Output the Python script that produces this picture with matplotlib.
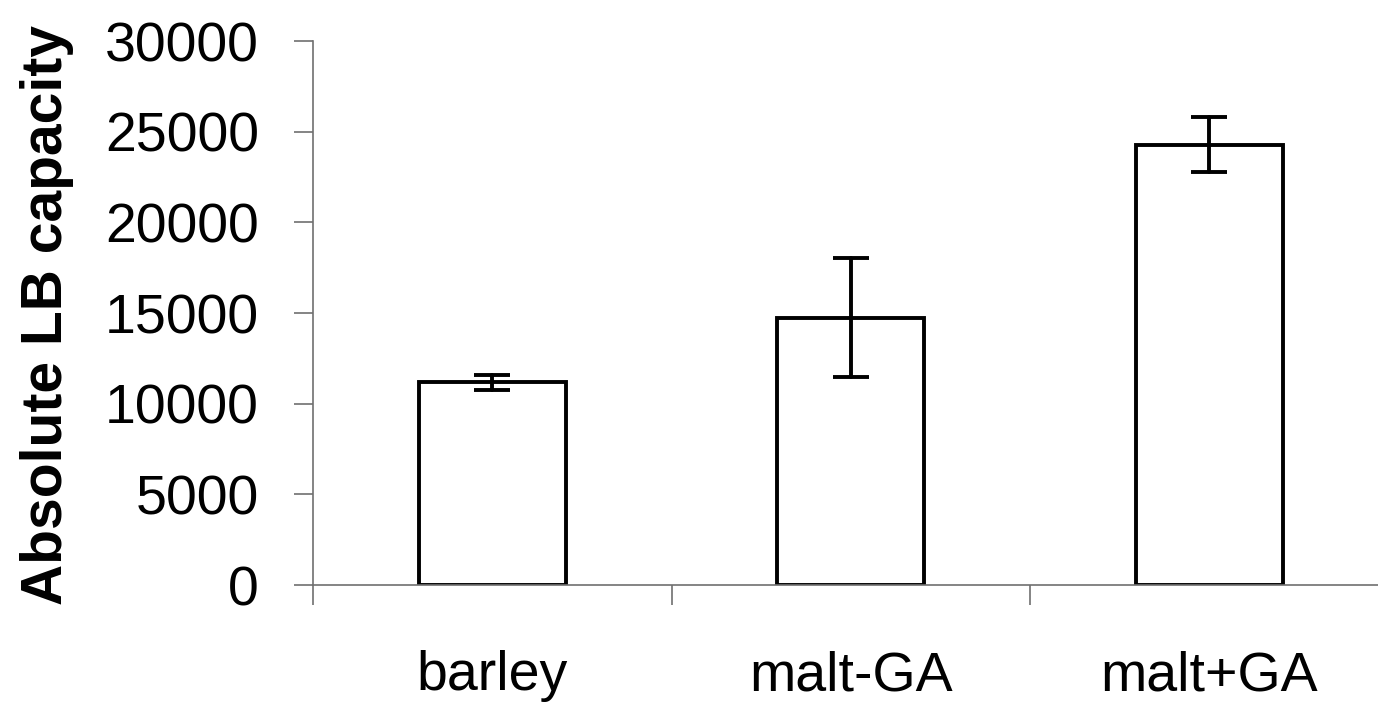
import matplotlib.pyplot as plt

categories = ['barley', 'malt-GA', 'malt+GA']
values = [11170, 14730, 24270]
errors = [410, 3280, 1520]
y_ticks = [0, 5000, 10000, 15000, 20000, 25000, 30000]

plt.rcParams['font.family'] = ['Liberation Sans', 'DejaVu Sans']

fig = plt.figure(figsize=(13.78, 7.08), dpi=100)
ax = fig.add_axes([313/1378, 123/708, 1 - 313/1378, (585-41)/708])

x = list(range(len(categories)))
ax.bar(x, values, width=0.41, color='white', edgecolor='black', linewidth=2.8, zorder=2)
eb = ax.errorbar(x, values, yerr=errors, fmt='none', ecolor='black', elinewidth=2.8,
                 capsize=13, capthick=2.8, zorder=3)
for c in eb[1]:
    c.set_solid_capstyle('round')
for c in eb[2]:
    c.set_capstyle('round')

ax.set_xlim(-0.5, 2.47)
ax.set_ylim(0, 30000)

for s in ['top', 'right']:
    ax.spines[s].set_visible(False)
for s in ['left', 'bottom']:
    ax.spines[s].set_color('#707070')
    ax.spines[s].set_linewidth(1.2)

ax.set_yticks(y_ticks)
ax.set_yticklabels([str(v) for v in y_ticks])
ax.tick_params(axis='y', length=14, width=1.2, color='#707070', pad=25, labelsize=40)

ax.set_xticks([-0.5, 0.5, 1.5])
ax.set_xticklabels([])
ax.tick_params(axis='x', which='major', length=14.5, width=1.2, color='#707070')
ax.set_xticks(x, minor=True)
ax.set_xticklabels(categories, minor=True)
ax.tick_params(axis='x', which='minor', length=0, pad=47, labelsize=40)

fig.text(47/1378, 1 - 315/708, 'Absolute LB capacity', rotation=90, fontsize=41,
         fontweight='bold', ha='center', va='center')

fig.savefig('out.png', dpi=100)
